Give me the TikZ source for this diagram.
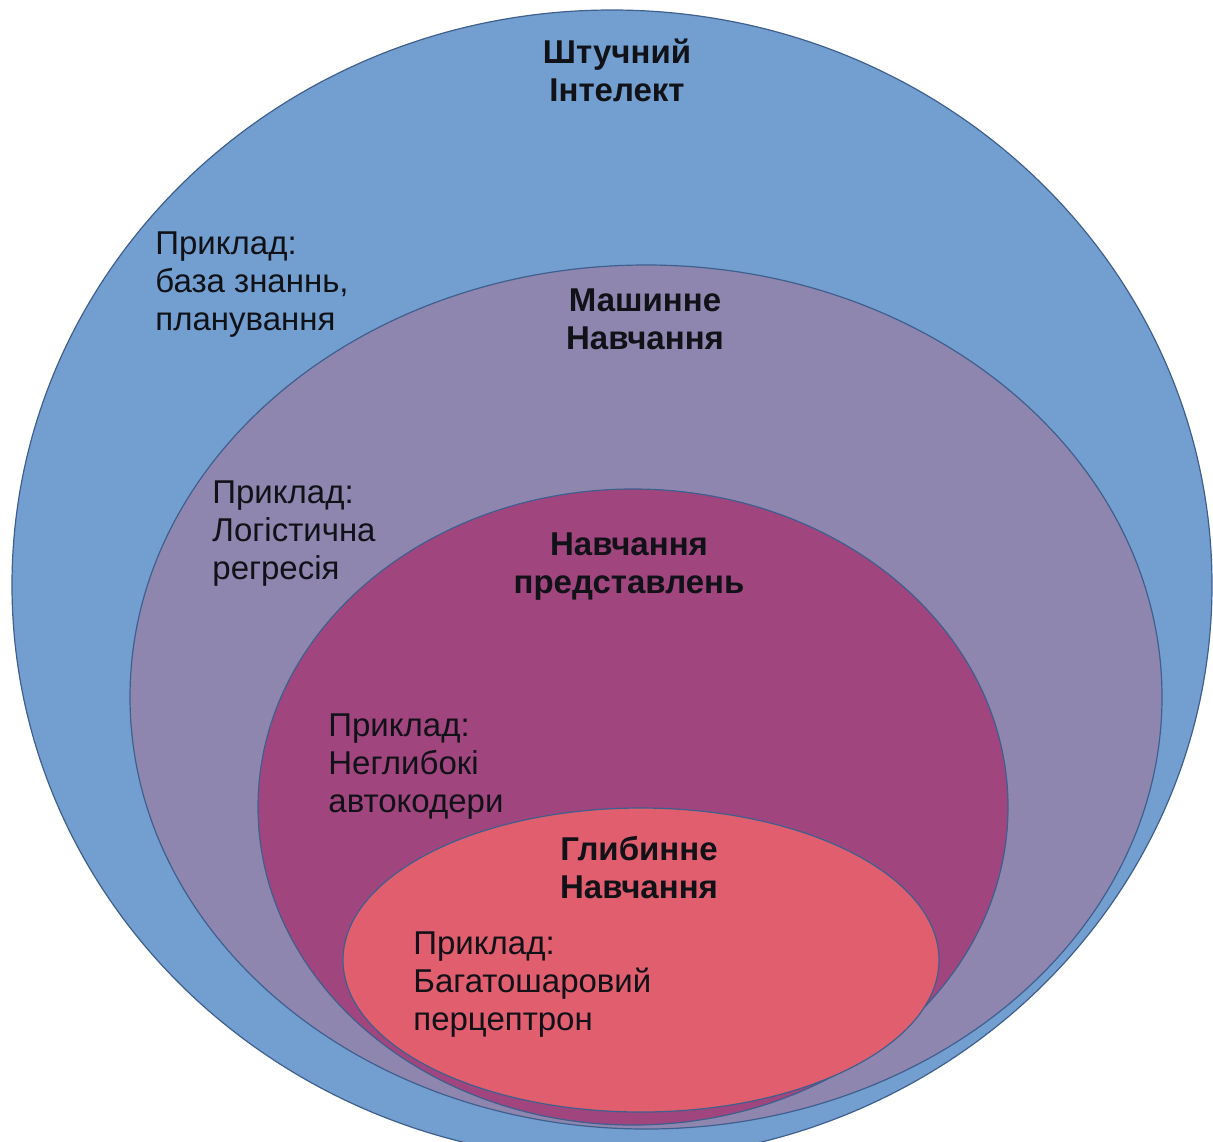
\documentclass[tikz,border=0pt]{standalone}
\usepackage{fontspec}
\setmainfont{Liberation Sans}
\definecolor{aiblue}{HTML}{729FCF}
\definecolor{mlgrey}{HTML}{8E86AE}
\definecolor{rlplum}{HTML}{A0457E}
\definecolor{dlpink}{HTML}{E05E6E}
\definecolor{rimline}{HTML}{3F5F8F}
\definecolor{inktext}{HTML}{111118}
\tikzset{
  region/.style={draw=rimline, line width=0.6pt},
  title/.style={font=\fontsize{16.5pt}{19pt}\selectfont\bfseries, text=inktext, align=center, inner sep=0pt},
  example/.style={font=\fontsize{16.5pt}{19pt}\selectfont, text=inktext, align=left, anchor=west, inner sep=0pt}
}
\begin{document}
\begin{tikzpicture}[x=0.5pt,y=-0.5pt]
  \useasboundingbox (0,0) rectangle (1213,1141);
  \clip (0,0) rectangle (1213,1141);
  % nested regions, outermost first
  \path[region, fill=aiblue] (612,585) ellipse [x radius=300pt, y radius=287.5pt];
  \path[region, fill=mlgrey] (646,697) ellipse [x radius=258pt, y radius=216pt];
  \path[region, fill=rlplum] (633,807) ellipse [x radius=187.5pt, y radius=159pt];
  \path[region, fill=dlpink] (641,960) ellipse [x radius=149pt, y radius=76pt];
  % labels
  \node[title] (ai) at (617,70) {Штучний\\Інтелект};
  \node[example] (aiex) at (155,285) {Приклад:\\база знаннь,\\планування};
  \node[title] (ml) at (645,319) {Машинне\\Навчання};
  \node[example] (mlex) at (212,534) {Приклад:\\Логістична\\регресія};
  \node[title] (rl) at (629,567) {Навчання\\представлень};
  \node[example] (rlex) at (328,767) {Приклад:\\Неглибокі\\автокодери};
  \node[title] (dl) at (639,868) {Глибинне\\Навчання};
  \node[example] (dlex) at (413,985) {Приклад:\\Багатошаровий\\перцептрон};
\end{tikzpicture}
\end{document}
